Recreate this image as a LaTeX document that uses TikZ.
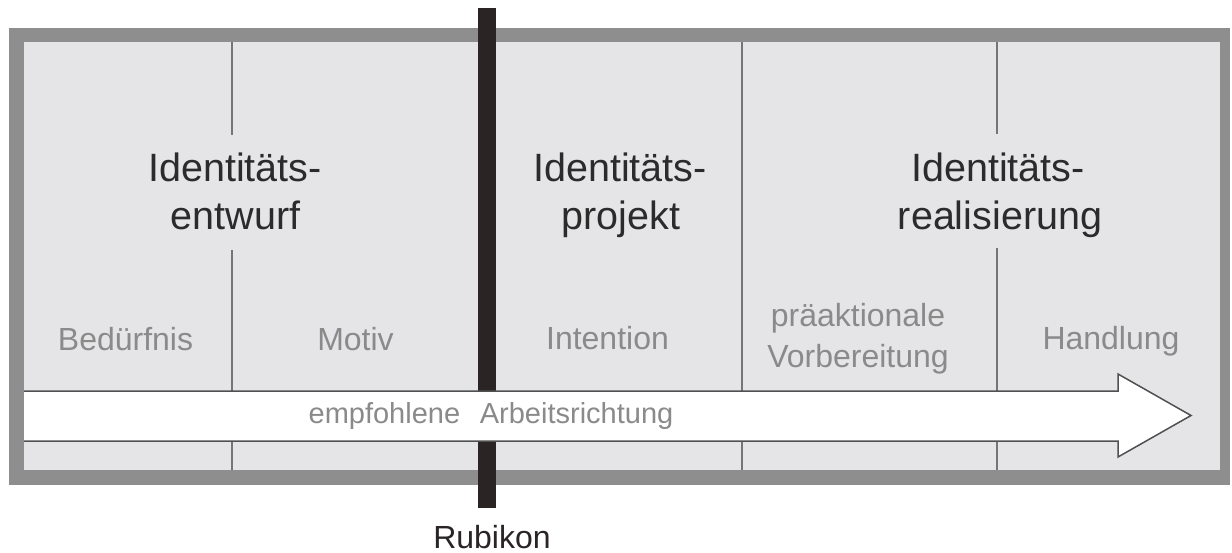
\documentclass[tikz,border=0pt]{standalone}
\usepackage{fontspec}
\setmainfont{Liberation Sans}
\definecolor{framegray}{HTML}{8E8E8E}
\definecolor{panelgray}{HTML}{E5E5E7}
\definecolor{divgray}{HTML}{757575}
\definecolor{subgray}{HTML}{8A8A8A}
\definecolor{headdark}{HTML}{2B2B2B}
\definecolor{rubidark}{HTML}{2A2425}
\definecolor{arrowgray}{HTML}{505050}
\begin{document}
\begin{tikzpicture}[x=1pt,y=-1pt,
  divider/.style={draw=divgray,line width=2pt},
  arrowline/.style={draw=arrowgray,line width=1.5pt,line join=miter},
  heading/.style={anchor=base,inner sep=0pt,text=headdark,font=\fontsize{39.5}{46}\selectfont},
  sublabel/.style={anchor=base,inner sep=0pt,text=subgray,font=\fontsize{32}{38}\selectfont},
  arrowtext/.style={anchor=base,inner sep=0pt,text=subgray,font=\fontsize{29}{34}\selectfont},
  rubitext/.style={anchor=base,inner sep=0pt,text=rubidark,font=\fontsize{32}{38}\selectfont}]
\useasboundingbox (0,0) rectangle (1232,553);
\fill[white] (0,0) rectangle (1232,553);
% frame
\fill[framegray] (9,28) rectangle (1230,485);
\fill[panelgray] (24,42) rectangle (1220,470);
% dividers
\draw[divider] (232,42) -- (232,135);
\draw[divider] (232,250) -- (232,470);
\draw[divider] (742,42) -- (742,470);
\draw[divider] (997,42) -- (997,134);
\draw[divider] (997,248) -- (997,470);
% Rubikon bar (interrupted by the arrow)
\fill[rubidark] (478,8) rectangle (496,391);
\fill[rubidark] (478,441) rectangle (496,508);
% arrow
\fill[white] (24,391) -- (1118,391) -- (1118,374) -- (1191,415.5) -- (1118,457) -- (1118,441) -- (24,441) -- cycle;
\draw[arrowline] (24,391) -- (1118,391) -- (1118,374) -- (1191,415.5) -- (1118,457) -- (1118,441) -- (24,441);
% headings
\node[heading] (h1a) at (235,182) {Identitäts-};
\node[heading] (h1b) at (235.5,230) {entwurf};
\node[heading] (h2a) at (620,182) {Identitäts-};
\node[heading] (h2b) at (621,230) {projekt};
\node[heading] (h3a) at (998,182) {Identitäts-};
\node[heading] (h3b) at (1000,230) {realisierung};
% sub labels
\node[sublabel] (s1) at (125.5,351) {Bedürfnis};
\node[sublabel] (s2) at (355.5,351) {Motiv};
\node[sublabel] (s3) at (607.5,350) {Intention};
\node[sublabel] (s4a) at (858,327) {präaktionale};
\node[sublabel] (s4b) at (858,367) {Vorbereitung};
\node[sublabel] (s5) at (1111,350) {Handlung};
% arrow text
\node[arrowtext] (at) at (491,423) {empfohlene\hspace{0.68em}Arbeitsrichtung};
% Rubikon label
\node[rubitext] (rk) at (492,548) {Rubikon};
\end{tikzpicture}
\end{document}
